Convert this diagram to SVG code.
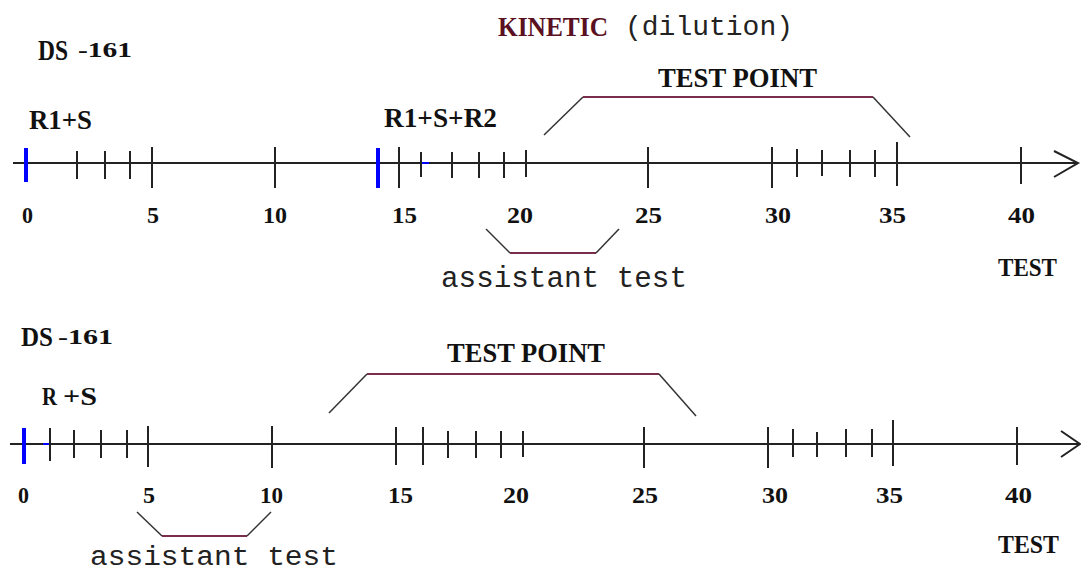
<svg xmlns="http://www.w3.org/2000/svg" width="1081" height="574" viewBox="0 0 1081 574">
<style>
.lbl{font-family:"Liberation Serif","DejaVu Serif",serif;font-weight:bold;fill:#111}
.num{font-family:"Liberation Serif","DejaVu Serif",serif;font-weight:bold;font-size:23px;fill:#111}
.mono{font-family:"Liberation Mono","DejaVu Sans Mono",monospace;fill:#222}
.axis{stroke:#222;stroke-width:2;fill:none}
.tick{stroke:#222;stroke-width:2}
.blue{stroke:#0000ff;stroke-width:4}
.diag{stroke:#333;stroke-width:1.5;fill:none}
.brace{stroke:#7a2d4d;stroke-width:2;fill:none}
</style>
<rect width="1081" height="574" fill="#ffffff"/>

<g id="title">
<text class="lbl" x="498" y="36" font-size="28" textLength="110" lengthAdjust="spacingAndGlyphs" style="fill:#5a1020">KINETIC</text>
<text class="mono" x="625" y="35" font-size="27.5" textLength="168" lengthAdjust="spacingAndGlyphs">(dilution)</text>
</g>

<!-- TOP TIMELINE -->
<g id="top-labels">
<text class="lbl" x="38" y="60" font-size="29" textLength="30" lengthAdjust="spacingAndGlyphs">DS</text>
<text class="lbl" x="78" y="57" font-size="21" textLength="54" lengthAdjust="spacingAndGlyphs">-161</text>
<text class="lbl" x="29" y="129" font-size="28" textLength="63" lengthAdjust="spacingAndGlyphs">R1+S</text>
<text class="lbl" x="384" y="127" font-size="28" textLength="113" lengthAdjust="spacingAndGlyphs">R1+S+R2</text>
<text class="lbl" x="658" y="87" font-size="28" textLength="159" lengthAdjust="spacingAndGlyphs">TEST POINT</text>
<text class="lbl" x="998" y="276" font-size="26" textLength="59" lengthAdjust="spacingAndGlyphs">TEST</text>
<text class="mono" x="441" y="287" font-size="29" textLength="246" lengthAdjust="spacingAndGlyphs">assistant test</text>
</g>
<g id="top-numbers">
<text class="num" x="22" y="223" textLength="11" lengthAdjust="spacingAndGlyphs">0</text>
<text class="num" x="147" y="223" textLength="12" lengthAdjust="spacingAndGlyphs">5</text>
<text class="num" x="263" y="223" textLength="24" lengthAdjust="spacingAndGlyphs">10</text>
<text class="num" x="392" y="223" textLength="25" lengthAdjust="spacingAndGlyphs">15</text>
<text class="num" x="507" y="223" textLength="26" lengthAdjust="spacingAndGlyphs">20</text>
<text class="num" x="635" y="223" textLength="27" lengthAdjust="spacingAndGlyphs">25</text>
<text class="num" x="765" y="223" textLength="26" lengthAdjust="spacingAndGlyphs">30</text>
<text class="num" x="879" y="223" textLength="27" lengthAdjust="spacingAndGlyphs">35</text>
<text class="num" x="1008" y="223" textLength="27" lengthAdjust="spacingAndGlyphs">40</text>
</g>
<g id="top-axis">
<line class="axis" x1="13" y1="163" x2="1077" y2="163"/>
<polyline class="axis" points="1054,151 1078,163 1054,177"/>
<line class="blue" x1="26" y1="148" x2="26" y2="182"/>
<line class="blue" x1="378" y1="148" x2="378" y2="188"/>
<line stroke="#0000ff" stroke-width="2" x1="421" y1="163" x2="429" y2="163"/>
<line class="tick" x1="77" y1="151" x2="77" y2="179"/>
<line class="tick" x1="105" y1="151" x2="105" y2="179"/>
<line class="tick" x1="130" y1="151" x2="130" y2="179"/>
<line class="tick" x1="152" y1="147" x2="152" y2="188"/>
<line class="tick" x1="275" y1="147" x2="275" y2="188"/>
<line class="tick" x1="399" y1="147" x2="399" y2="188"/>
<line class="tick" x1="421" y1="152" x2="421" y2="177"/>
<line class="tick" x1="452" y1="152" x2="452" y2="178"/>
<line class="tick" x1="479" y1="152" x2="479" y2="178"/>
<line class="tick" x1="504" y1="152" x2="504" y2="178"/>
<line class="tick" x1="526" y1="150" x2="526" y2="177"/>
<line class="tick" x1="648" y1="147" x2="648" y2="188"/>
<line class="tick" x1="772" y1="147" x2="772" y2="188"/>
<line class="tick" x1="797" y1="149" x2="797" y2="177"/>
<line class="tick" x1="822" y1="150" x2="822" y2="176"/>
<line class="tick" x1="850" y1="150" x2="850" y2="177"/>
<line class="tick" x1="875" y1="150" x2="875" y2="177"/>
<line class="tick" x1="897" y1="142" x2="897" y2="186"/>
<line class="tick" x1="1021" y1="147" x2="1021" y2="184"/>
</g>

<!-- BOTTOM TIMELINE -->
<g id="bottom-labels">
<text class="lbl" x="21" y="346" font-size="27" textLength="32" lengthAdjust="spacingAndGlyphs">DS</text>
<text class="lbl" x="58" y="344" font-size="21" textLength="55" lengthAdjust="spacingAndGlyphs">-161</text>
<text class="lbl" x="42" y="405" font-size="26" textLength="15" lengthAdjust="spacingAndGlyphs">R</text>
<text class="lbl" x="63" y="405" font-size="26" textLength="34" lengthAdjust="spacingAndGlyphs">+S</text>
<text class="lbl" x="447" y="362" font-size="28" textLength="158" lengthAdjust="spacingAndGlyphs">TEST POINT</text>
<text class="lbl" x="998" y="553" font-size="26" textLength="61" lengthAdjust="spacingAndGlyphs">TEST</text>
<text class="mono" x="90" y="565" font-size="27" textLength="248" lengthAdjust="spacingAndGlyphs">assistant test</text>
</g>
<g id="bottom-numbers">
<text class="num" x="18" y="503" textLength="11" lengthAdjust="spacingAndGlyphs">0</text>
<text class="num" x="143" y="503" textLength="12" lengthAdjust="spacingAndGlyphs">5</text>
<text class="num" x="260" y="503" textLength="23" lengthAdjust="spacingAndGlyphs">10</text>
<text class="num" x="388" y="503" textLength="25" lengthAdjust="spacingAndGlyphs">15</text>
<text class="num" x="503" y="503" textLength="26" lengthAdjust="spacingAndGlyphs">20</text>
<text class="num" x="632" y="503" textLength="26" lengthAdjust="spacingAndGlyphs">25</text>
<text class="num" x="762" y="503" textLength="26" lengthAdjust="spacingAndGlyphs">30</text>
<text class="num" x="876" y="503" textLength="27" lengthAdjust="spacingAndGlyphs">35</text>
<text class="num" x="1005" y="503" textLength="27" lengthAdjust="spacingAndGlyphs">40</text>
</g>
<g id="bottom-axis">
<line class="axis" x1="10" y1="444" x2="1079" y2="444"/>
<polyline class="axis" points="1061,431 1080,444 1061,457"/>
<line class="blue" x1="24" y1="428" x2="24" y2="464"/>
<line stroke="#0000ff" stroke-width="2" x1="43" y1="444" x2="50" y2="444"/>
<line class="tick" x1="50" y1="428" x2="50" y2="461"/>
<line class="tick" x1="74" y1="430" x2="74" y2="458"/>
<line class="tick" x1="101" y1="430" x2="101" y2="458"/>
<line class="tick" x1="127" y1="430" x2="127" y2="458"/>
<line class="tick" x1="148" y1="426" x2="148" y2="467"/>
<line class="tick" x1="272" y1="426" x2="272" y2="468"/>
<line class="tick" x1="396" y1="427" x2="396" y2="465"/>
<line class="tick" x1="423" y1="427" x2="423" y2="465"/>
<line class="tick" x1="448" y1="431" x2="448" y2="458"/>
<line class="tick" x1="476" y1="431" x2="476" y2="458"/>
<line class="tick" x1="501" y1="431" x2="501" y2="458"/>
<line class="tick" x1="523" y1="431" x2="523" y2="457"/>
<line class="tick" x1="644" y1="427" x2="644" y2="468"/>
<line class="tick" x1="768" y1="427" x2="768" y2="468"/>
<line class="tick" x1="793" y1="429" x2="793" y2="457"/>
<line class="tick" x1="817" y1="432" x2="817" y2="457"/>
<line class="tick" x1="846" y1="429" x2="846" y2="457"/>
<line class="tick" x1="872" y1="429" x2="872" y2="457"/>
<line class="tick" x1="893" y1="420" x2="893" y2="466"/>
<line class="tick" x1="1017" y1="427" x2="1017" y2="465"/>
</g>

<g id="connectors">
<!-- top test point bracket -->
<line class="diag" x1="544" y1="135" x2="583" y2="97"/>
<line class="brace" x1="583" y1="97" x2="873" y2="97"/>
<line class="diag" x1="873" y1="97" x2="910" y2="137"/>
<!-- top assistant bracket -->
<line class="diag" x1="486" y1="229" x2="510" y2="253"/>
<line class="brace" x1="510" y1="253" x2="596" y2="253"/>
<line class="diag" x1="596" y1="253" x2="619" y2="229"/>
<!-- bottom test point bracket -->
<line class="diag" x1="329" y1="413" x2="367" y2="374"/>
<line class="brace" x1="367" y1="374" x2="659" y2="374"/>
<line class="diag" x1="659" y1="374" x2="696" y2="416"/>
<!-- bottom assistant bracket -->
<line class="diag" x1="137" y1="512" x2="162" y2="536"/>
<line class="brace" x1="162" y1="536" x2="247" y2="536"/>
<line class="diag" x1="247" y1="536" x2="271" y2="512"/>
</g>
</svg>
